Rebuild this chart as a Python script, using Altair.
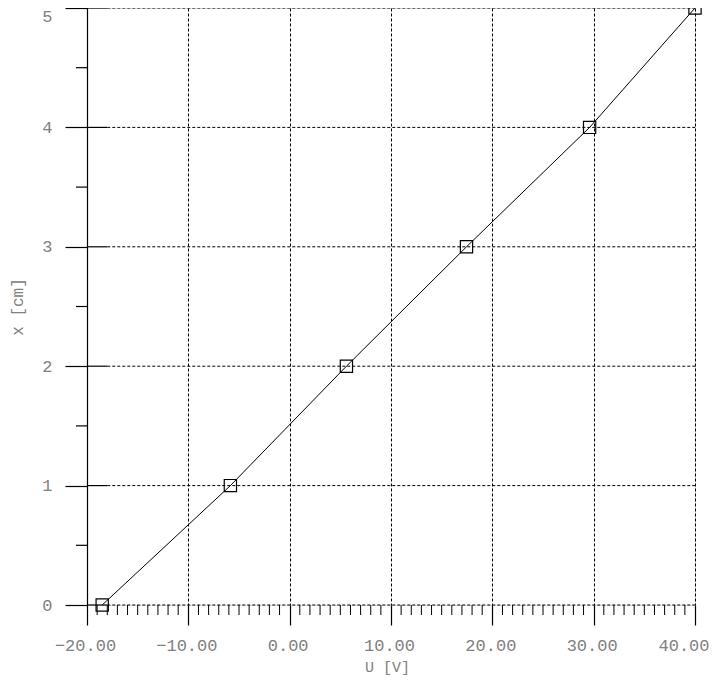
import altair as alt
import pandas as pd

# Data
u_values = [-18.5, -5.85, 5.6, 17.45, 29.6, 40.0]
x_values = [0, 1, 2, 3, 4, 5]

x_major = [-20, -10, 0, 10, 20, 30, 40]
x_minor = [v for v in range(-19, 40) if v % 10 != 0]
y_major = [0, 1, 2, 3, 4, 5]
y_minor = [0.5, 1.5, 2.5, 3.5, 4.5]

W, H = 608, 597
FONT = "Liberation Mono"
GRAY = "#808080"

df = pd.DataFrame({"U": u_values, "x": x_values})
df_ymaj = pd.DataFrame({"y": y_major, "x0": [-20] * len(y_major), "x1": [-18] * len(y_major), "x2": [40] * len(y_major)})
df_ymin = pd.DataFrame({"y": y_minor})
df_xmin = pd.DataFrame({"x": x_minor})

xscale = alt.Scale(domain=[-20, 40], nice=False, zero=False)
yscale = alt.Scale(domain=[0, 5], nice=False, zero=False)

x_axis = alt.Axis(
    values=x_major, format=".2f", title="U [V]", grid=True, gridDash=[3, 2], gridColor="black",
    gridOpacity=1, gridWidth=1, domain=False, tickSize=20, tickColor="black", tickWidth=1.2,
    labelFont=FONT, labelFontSize=17, labelColor=GRAY, labelPadding=12,
    labelAlign={"condition": {"test": "datum.value == 40", "value": "right"}, "value": "center"},
    labelOffset={"condition": {"test": "datum.value == 40", "value": 14}, "value": -2},
    labelFlush=False, labelOverlap=False,
    titleFont=FONT, titleFontSize=15, titleColor=GRAY, titleFontWeight="normal",
    titleX=300, titleY=61, titleBaseline="middle", titleAlign="center",
)
y_axis = alt.Axis(
    values=y_major, format="d", title="x [cm]", grid=False, domain=True, domainColor="black",
    domainWidth=1.2, tickSize=22, tickColor="black", tickWidth=1.2,
    labelFont=FONT, labelFontSize=17, labelColor=GRAY, labelPadding=13,
    labelFlush=False, labelOverlap=False,
    labelBaseline={"condition": {"test": "datum.value == 5", "value": "top"}, "value": "middle"},
    titleFont=FONT, titleFontSize=16, titleColor=GRAY, titleFontWeight="normal",
    titleX=-70, titleY=H / 2, titleBaseline="middle", titleAlign="center", titleAngle=-90,
)

base = alt.Chart(df).mark_line(color="black", strokeWidth=1).encode(
    x=alt.X("U:Q", scale=xscale, axis=x_axis),
    y=alt.Y("x:Q", scale=yscale, axis=y_axis),
)

points = alt.Chart(df).mark_point(shape="square", size=150, filled=False, color="black", strokeWidth=1.2, opacity=1).encode(
    x=alt.X("U:Q", scale=xscale),
    y=alt.Y("x:Q", scale=yscale),
)

hgrid = alt.Chart(df_ymaj).mark_rule(color="black", strokeWidth=1, strokeDash=[3, 2]).encode(
    x=alt.X("x1:Q", scale=xscale), x2="x2:Q", y=alt.Y("y:Q", scale=yscale)
)
hsolid = alt.Chart(df_ymaj).mark_rule(color="black", strokeWidth=1.2).encode(
    x=alt.X("x0:Q", scale=xscale), x2="x1:Q", y=alt.Y("y:Q", scale=yscale)
)
ymin = alt.Chart(df_ymin).mark_rule(color="black", strokeWidth=1.2).encode(
    x=alt.value(-11), x2=alt.value(0), y=alt.Y("y:Q", scale=yscale)
)
xmin = alt.Chart(df_xmin).mark_rule(color="black", strokeWidth=1).encode(
    x=alt.X("x:Q", scale=xscale), y=alt.value(H), y2=alt.value(H + 10)
)

chart = alt.layer(hgrid, hsolid, ymin, xmin, base, points).properties(
    width=W, height=H,
    autosize=alt.AutoSizeParams(type="none"),
    padding={"left": 79, "top": 0, "right": 14, "bottom": 70},
).configure_view(stroke=None).configure(background="white")

chart.save("out.html", embed_options={"renderer": "svg", "actions": False})
